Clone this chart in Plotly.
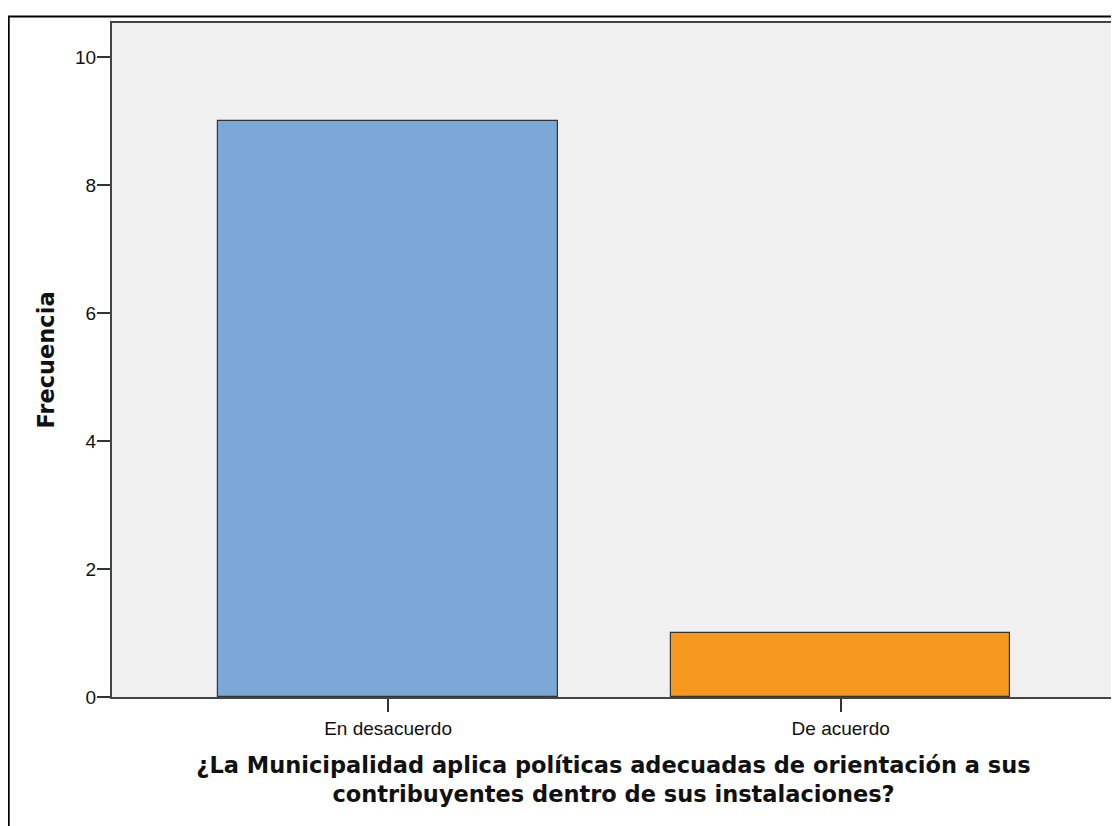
import plotly.graph_objects as go

categories = ["En desacuerdo", "De acuerdo"]
values = [9, 1]
colors = ["#7BA8D6", "#F7991F"]
y_ticks = [0, 2, 4, 6, 8, 10]

# page has an 8px body margin, so the figure is drawn 8px smaller and shifted
W, H = 1111, 818
ml, mr, mt, mb = 104, 2, 15, 129
pw, ph = W - ml - mr, H - mt - mb

fig = go.Figure(go.Bar(
    x=[0, 1], y=values, width=0.75,
    marker=dict(color=colors, line=dict(color="#333333", width=1.2)),
))

def px2x(px):
    return (px - ml) / pw

def px2y(py):
    return 1 - (py - mt) / ph

title_font = dict(family="DejaVu Sans", size=22.5, color="#111111", weight="bold")

fig.update_layout(
    width=W, height=H,
    margin=dict(l=ml, r=mr, t=mt, b=mb),
    paper_bgcolor="white", plot_bgcolor="#F0F0F0",
    font=dict(family="Arial, Liberation Sans, sans-serif", color="#111111", size=19),
    showlegend=False,
    bargap=0,
    xaxis=dict(
        range=[-0.61, 1.606], tickmode="array", tickvals=[0, 1], ticktext=categories,
        ticks="outside", ticklen=13, tickwidth=1.5, tickcolor="#333333",
        showline=True, linecolor="#444444", linewidth=2, mirror=True,
        showgrid=False, zeroline=False,
        title=dict(text="¿La Municipalidad aplica políticas adecuadas de orientación a sus<br>contribuyentes dentro de sus instalaciones?",
                   font=title_font, standoff=19),
    ),
    yaxis=dict(
        range=[0, 10.53], tickvals=y_ticks,
        ticks="outside", ticklen=13, tickwidth=1.5, tickcolor="#333333",
        ticklabelstandoff=-3,
        showline=True, linecolor="#444444", linewidth=2, mirror=True,
        showgrid=False, zeroline=False,
        title=dict(text="Frecuencia", font=title_font, standoff=14),
    ),
    shapes=[dict(type="rect", xref="paper", yref="paper",
                 x0=px2x(0.5), x1=px2x(W + 10), y0=px2y(H + 10), y1=px2y(8.5),
                 line=dict(color="#000000", width=2), fillcolor="rgba(0,0,0,0)", layer="above")],
)

fig.write_html("out.html")
